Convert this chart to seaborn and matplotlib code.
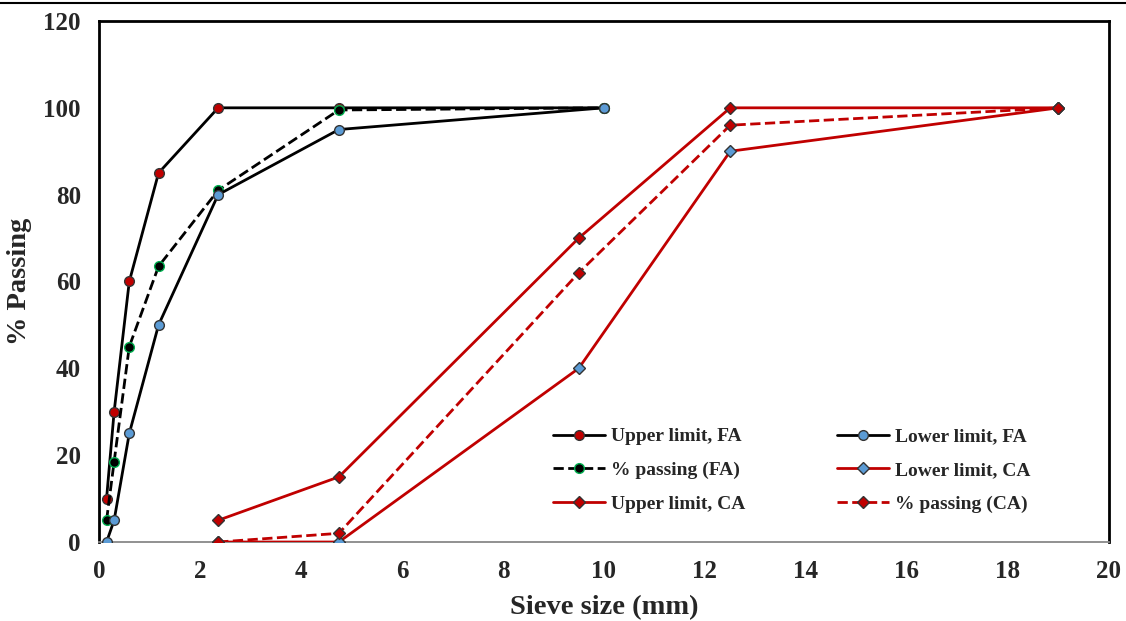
import pandas as pd
import numpy as np
import matplotlib
matplotlib.use('Agg')
import matplotlib.pyplot as plt
import seaborn as sns
from matplotlib.lines import Line2D

# sieve sizes (mm)
sieve_fa = [0.15, 0.3, 0.6, 1.18, 2.36, 4.75, 10]
sieve_ca = [2.36, 4.75, 9.5, 12.5, 19]

# fine aggregate
upper_fa = [10, 30, 60, 85, 100, 100, 100]
lower_fa = [0, 5, 25, 50, 80, 95, 100]
passing_fa = [5, 18.5, 45, 63.5, 81, 99.5, 100]

# coarse aggregate
upper_ca = [5, 15, 70, 100, 100]
lower_ca = [0, 0, 40, 90, 100]
passing_ca = [0, 2, 62, 96, 100]

sns.set_style('white')
plt.rcParams['font.family'] = ['Liberation Serif', 'DejaVu Serif']
plt.rcParams['font.weight'] = 'bold'

fig = plt.figure(figsize=(11.26, 6.21), dpi=100)
ax = fig.add_axes([0.0879, 0.1272, 0.8970, 0.8390])

red = '#C00000'
blue = '#5B9BD5'
green = '#00B050'

series = [
    ('Upper limit, FA', sieve_fa, upper_fa, 'black', '-', 'o', red, '#333333'),
    ('% passing (FA)', sieve_fa, passing_fa, 'black', '--', 'o', 'black', green),
    ('Upper limit, CA', sieve_ca, upper_ca, red, '-', 'D', red, '#333333'),
    ('Lower limit, FA', sieve_fa, lower_fa, 'black', '-', 'o', blue, '#333333'),
    ('Lower limit, CA', sieve_ca, lower_ca, red, '-', 'D', blue, '#333333'),
    ('% passing (CA)', sieve_ca, passing_ca, red, '--', 'D', red, '#333333'),
]

handles = []
for name, xs, ys, col, ls, mk, mfc, mec in series:
    df = pd.DataFrame({'Sieve': xs, 'Passing': ys})
    ms = 7 if mk == 'o' else 6.5
    sns.lineplot(data=df, x='Sieve', y='Passing', ax=ax, color=col, linestyle=ls,
                 linewidth=2.0, marker=mk, markersize=ms,
                 markerfacecolor=mfc, markeredgecolor=mec, markeredgewidth=1.0,
                 sort=False, zorder=3)
    handles.append(Line2D([], [], color=col, linestyle=ls, linewidth=2.0, marker=mk,
                          markersize=ms, markerfacecolor=mfc,
                          markeredgecolor=mec, markeredgewidth=1.0, label=name))

ax.set_xlim(0, 20)
ax.set_ylim(0, 120)
ax.set_xticks(np.arange(0, 21, 2))
ax.set_yticks(np.arange(0, 121, 20))
ax.tick_params(length=0, pad=13, labelsize=18)
for lab in ax.get_xticklabels() + ax.get_yticklabels():
    lab.set_fontweight('bold')

ax.set_xlabel('Sieve size (mm)', fontsize=20.5, fontweight='bold', labelpad=9)
ax.set_ylabel('% Passing', fontsize=20.5, fontweight='bold', labelpad=8)

for side in ['left', 'top', 'right']:
    ax.spines[side].set_color('black')
    ax.spines[side].set_linewidth(2.0)
ax.spines['bottom'].set_color('#888888')
ax.spines['bottom'].set_linewidth(1.3)

leg = ax.legend(handles=handles, ncol=2, loc='center', bbox_to_anchor=(0.686, 0.138),
                frameon=False, prop={'weight': 'bold', 'size': 14},
                handlelength=2.7, columnspacing=4.7, labelspacing=0.82, handletextpad=0.3)

# thin rule at the top of the page crop
fig.add_artist(Line2D([0, 1], [0.995, 0.995], transform=fig.transFigure, color='black', lw=1.5))

fig.savefig('out.png', dpi=100)
